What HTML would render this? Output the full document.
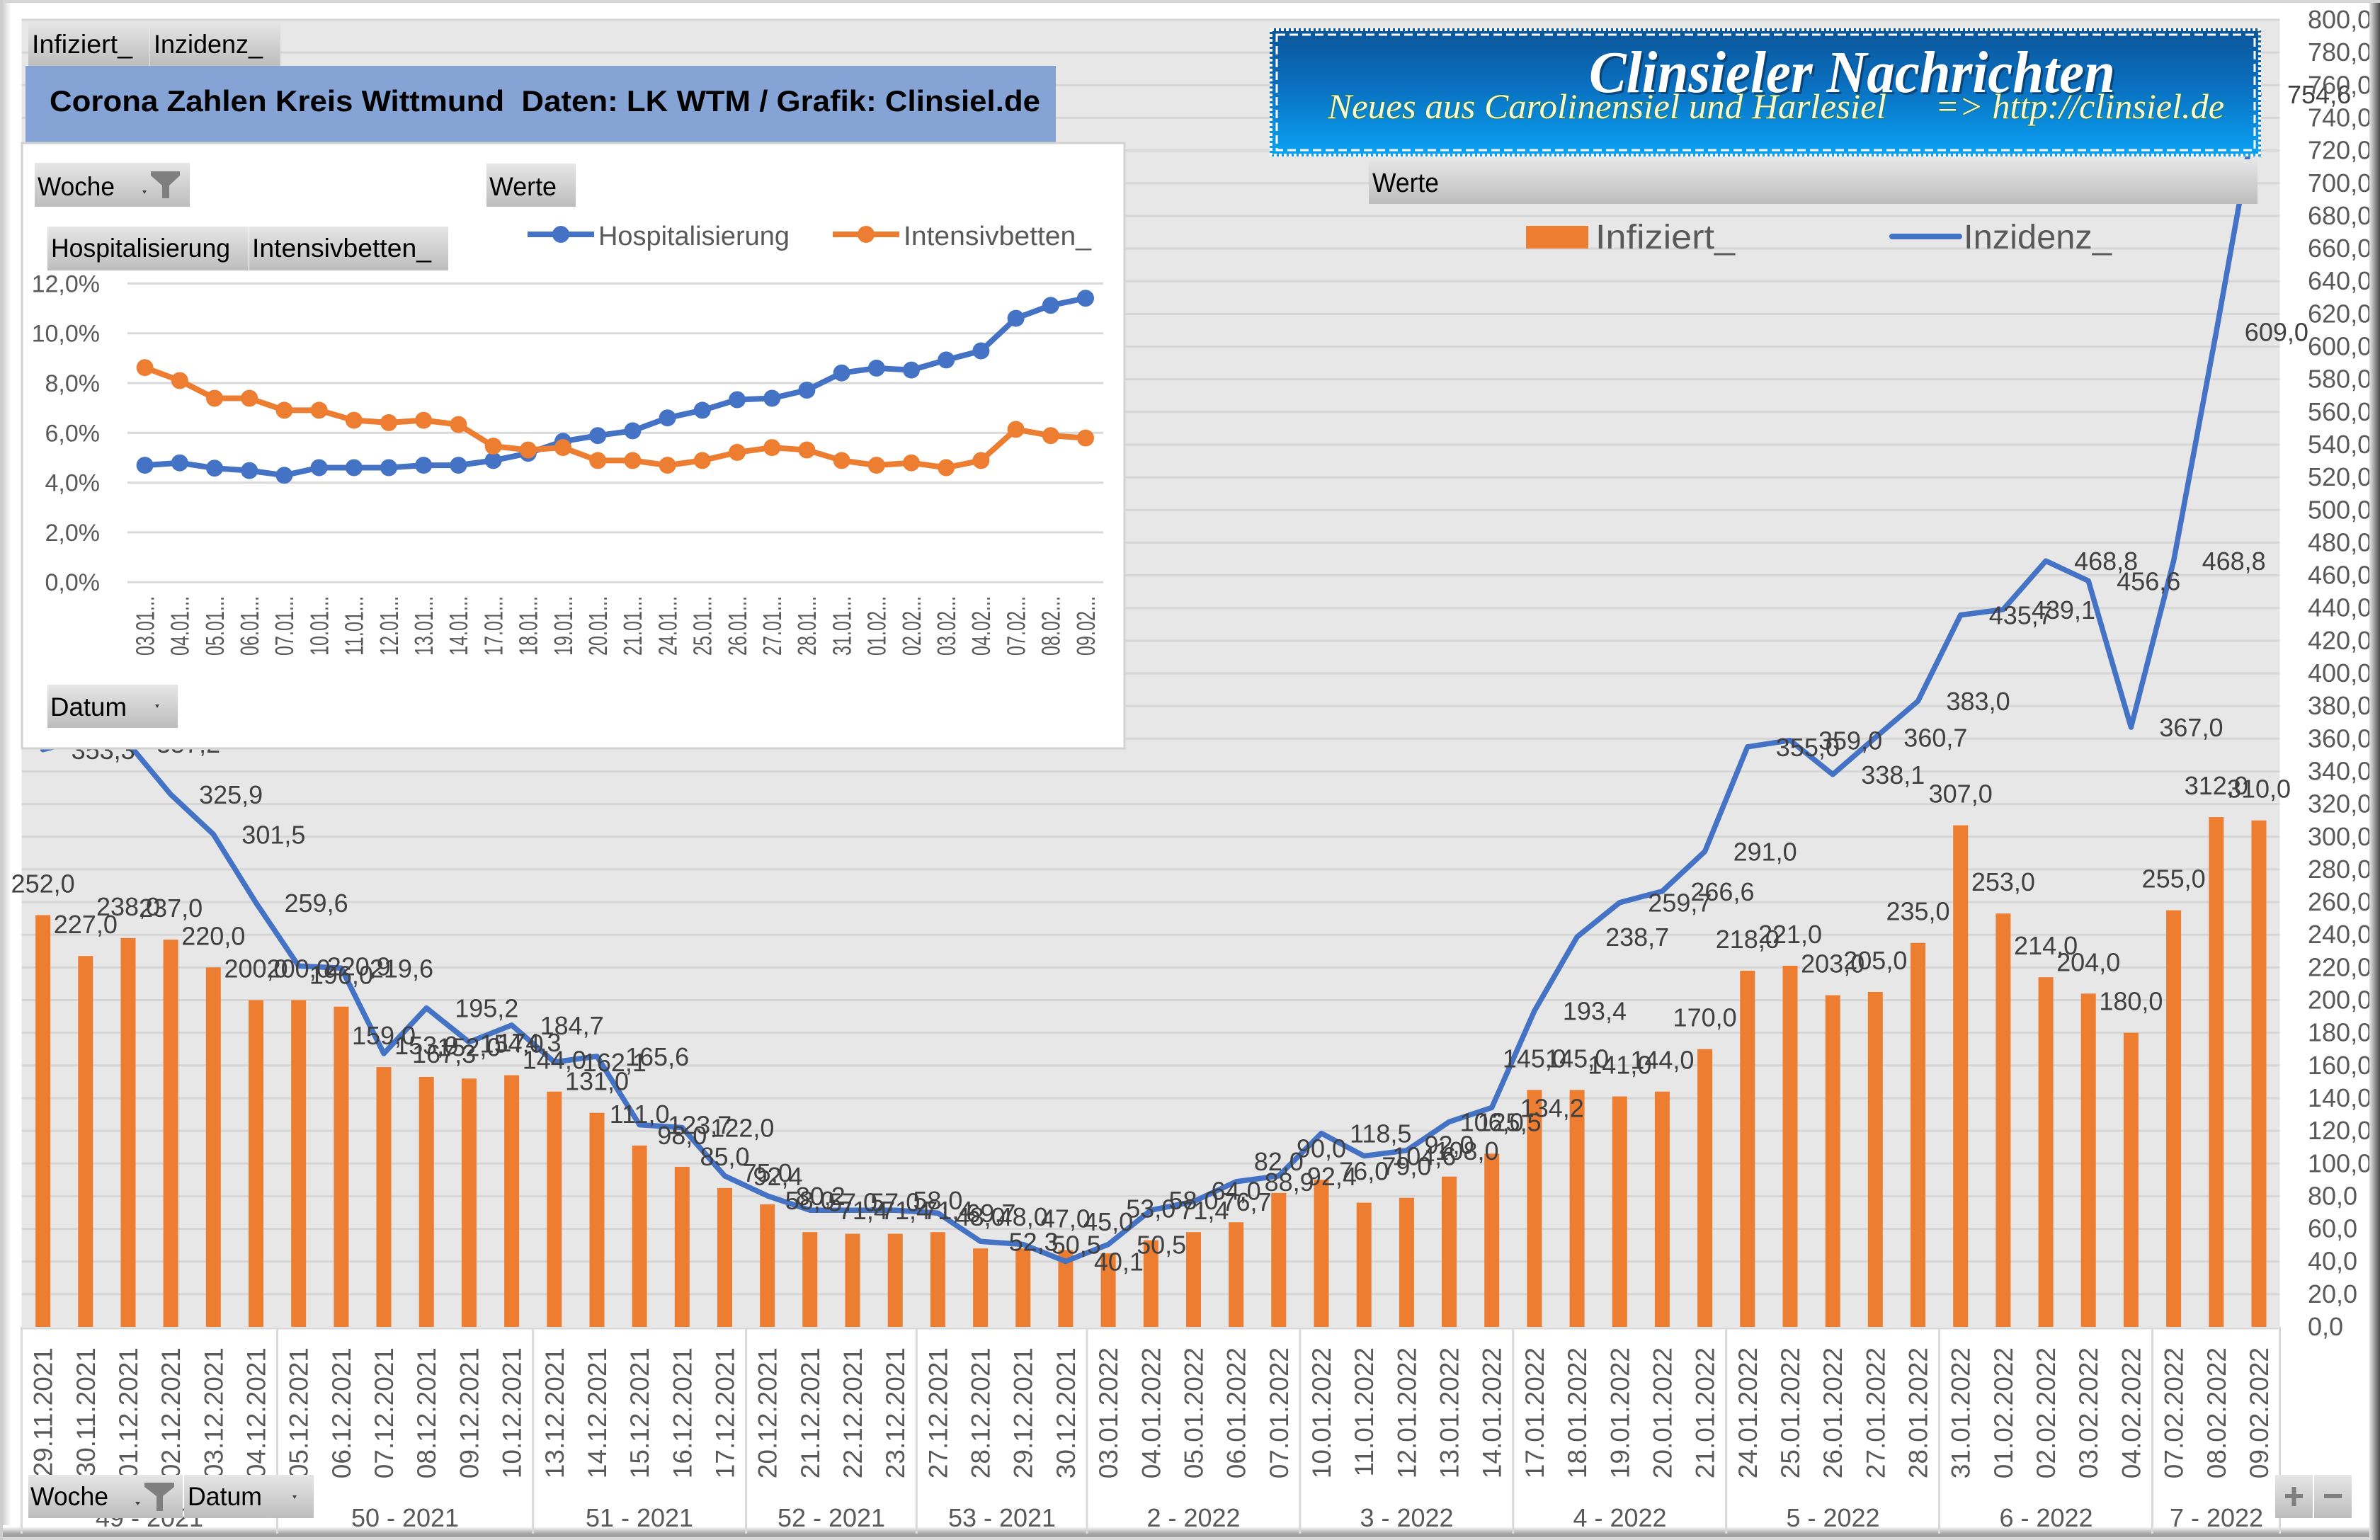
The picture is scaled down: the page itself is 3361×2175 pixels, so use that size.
<!DOCTYPE html>
<html><head><meta charset="utf-8"><title>Corona Zahlen Kreis Wittmund</title>
<style>html,body{margin:0;padding:0;background:#fff;overflow:hidden}svg{display:block}</style></head>
<body>
<svg width="3361" height="2175" viewBox="0 0 3361 2175" xmlns="http://www.w3.org/2000/svg" font-family="'Liberation Sans', sans-serif">
<defs>
<linearGradient id="btn" x1="0" y1="0" x2="0" y2="1"><stop offset="0" stop-color="#e6e6e6"/><stop offset="1" stop-color="#bdbdbd"/></linearGradient>
<linearGradient id="logo" x1="0" y1="0" x2="0" y2="1"><stop offset="0" stop-color="#0b5699"/><stop offset="0.45" stop-color="#0a6fbf"/><stop offset="1" stop-color="#0aa3f5"/></linearGradient>
<linearGradient id="rsh" x1="0" y1="0" x2="1" y2="0"><stop offset="0" stop-color="#e6e6e6"/><stop offset="0.5" stop-color="#9a9a9a"/><stop offset="1" stop-color="#4a4a4a"/></linearGradient>
<linearGradient id="lsh" x1="0" y1="0" x2="1" y2="0"><stop offset="0" stop-color="#d0d0d0"/><stop offset="1" stop-color="#fbfbfb"/></linearGradient>
<linearGradient id="bsh" x1="0" y1="0" x2="0" y2="1"><stop offset="0" stop-color="#ffffff"/><stop offset="1" stop-color="#a6a6a6"/></linearGradient>
<marker id="mb" markerUnits="userSpaceOnUse" markerWidth="26" markerHeight="26" refX="13" refY="13" viewBox="0 0 26 26"><circle cx="13" cy="13" r="12" fill="#4472c4"/></marker>
<marker id="mo" markerUnits="userSpaceOnUse" markerWidth="26" markerHeight="26" refX="13" refY="13" viewBox="0 0 26 26"><circle cx="13" cy="13" r="12" fill="#ed7d31"/></marker>
</defs>

<rect x="0" y="0" width="3361" height="2175" fill="#ffffff"/>

<!-- frame (below content) -->
<rect x="0" y="2156" width="3361" height="10" fill="url(#bsh)"/>
<rect x="0" y="2166" width="3361" height="5" fill="#a3a3a3"/>
<rect x="0" y="2171" width="3361" height="4" fill="#d8d8d8"/>

<!-- plot area -->
<rect x="30.5" y="27" width="3189" height="1847" fill="#e7e7e7"/>
<path stroke="#d6d6d6" stroke-width="3" fill="none" d="M30.5,28H3219.5M30.5,74.15H3219.5M30.5,120.3H3219.5M30.5,166.45H3219.5M30.5,212.6H3219.5M30.5,258.75H3219.5M30.5,304.9H3219.5M30.5,351.05H3219.5M30.5,397.2H3219.5M30.5,443.35H3219.5M30.5,489.5H3219.5M30.5,535.65H3219.5M30.5,581.8H3219.5M30.5,627.95H3219.5M30.5,674.1H3219.5M30.5,720.25H3219.5M30.5,766.4H3219.5M30.5,812.55H3219.5M30.5,858.7H3219.5M30.5,904.85H3219.5M30.5,951H3219.5M30.5,997.15H3219.5M30.5,1043.3H3219.5M30.5,1089.45H3219.5M30.5,1135.6H3219.5M30.5,1181.75H3219.5M30.5,1227.9H3219.5M30.5,1274.05H3219.5M30.5,1320.2H3219.5M30.5,1366.35H3219.5M30.5,1412.5H3219.5M30.5,1458.65H3219.5M30.5,1504.8H3219.5M30.5,1550.95H3219.5M30.5,1597.1H3219.5M30.5,1643.25H3219.5M30.5,1689.4H3219.5M30.5,1735.55H3219.5M30.5,1781.7H3219.5M30.5,1827.85H3219.5"/>

<!-- top tabs and title -->
<rect x="40" y="31" width="171" height="62" fill="url(#btn)"/>
<rect x="212" y="31" width="184" height="62" fill="url(#btn)"/>
<text x="45" y="75" font-size="37" fill="#000" textLength="142" lengthAdjust="spacingAndGlyphs">Infiziert_</text>
<text x="217" y="75" font-size="37" fill="#000" textLength="154" lengthAdjust="spacingAndGlyphs">Inzidenz_</text>
<rect x="36" y="93" width="1455" height="108" fill="#86a3d6"/>
<text x="70" y="157" font-size="42" font-weight="bold" fill="#000" textLength="1399" lengthAdjust="spacingAndGlyphs">Corona Zahlen Kreis Wittmund&#160; Daten: LK WTM / Grafik: Clinsiel.de</text>

<!-- bars -->
<g fill="#ed7d31">
<rect x="50.1" y="1292.5" width="21" height="581.5"/><rect x="110.3" y="1350.2" width="21" height="523.8"/><rect x="170.5" y="1324.8" width="21" height="549.2"/><rect x="230.6" y="1327.1" width="21" height="546.9"/><rect x="290.8" y="1366.3" width="21" height="507.7"/><rect x="351" y="1412.5" width="21" height="461.5"/><rect x="411.2" y="1412.5" width="21" height="461.5"/><rect x="471.4" y="1421.7" width="21" height="452.3"/><rect x="531.5" y="1507.1" width="21" height="366.9"/><rect x="591.7" y="1521" width="21" height="353"/><rect x="651.9" y="1523.3" width="21" height="350.7"/><rect x="712.1" y="1518.6" width="21" height="355.4"/><rect x="772.3" y="1541.7" width="21" height="332.3"/><rect x="832.5" y="1571.7" width="21" height="302.3"/><rect x="892.6" y="1617.9" width="21" height="256.1"/><rect x="952.8" y="1647.9" width="21" height="226.1"/><rect x="1013" y="1677.9" width="21" height="196.1"/><rect x="1073.2" y="1700.9" width="21" height="173.1"/><rect x="1133.3" y="1740.2" width="21" height="133.8"/><rect x="1193.5" y="1742.5" width="21" height="131.5"/><rect x="1253.7" y="1742.5" width="21" height="131.5"/><rect x="1313.9" y="1740.2" width="21" height="133.8"/><rect x="1374.1" y="1763.2" width="21" height="110.8"/><rect x="1434.2" y="1763.2" width="21" height="110.8"/><rect x="1494.4" y="1765.5" width="21" height="108.5"/><rect x="1554.6" y="1770.2" width="21" height="103.8"/><rect x="1614.8" y="1751.7" width="21" height="122.3"/><rect x="1675" y="1740.2" width="21" height="133.8"/><rect x="1735.1" y="1726.3" width="21" height="147.7"/><rect x="1795.3" y="1684.8" width="21" height="189.2"/><rect x="1855.5" y="1666.3" width="21" height="207.7"/><rect x="1915.7" y="1698.6" width="21" height="175.4"/><rect x="1975.9" y="1691.7" width="21" height="182.3"/><rect x="2036" y="1661.7" width="21" height="212.3"/><rect x="2096.2" y="1629.4" width="21" height="244.6"/><rect x="2156.4" y="1539.4" width="21" height="334.6"/><rect x="2216.6" y="1539.4" width="21" height="334.6"/><rect x="2276.8" y="1548.6" width="21" height="325.4"/><rect x="2336.9" y="1541.7" width="21" height="332.3"/><rect x="2397.1" y="1481.7" width="21" height="392.3"/><rect x="2457.3" y="1371" width="21" height="503"/><rect x="2517.5" y="1364" width="21" height="510"/><rect x="2577.7" y="1405.6" width="21" height="468.4"/><rect x="2637.8" y="1401" width="21" height="473"/><rect x="2698" y="1331.7" width="21" height="542.3"/><rect x="2758.2" y="1165.6" width="21" height="708.4"/><rect x="2818.4" y="1290.2" width="21" height="583.8"/><rect x="2878.6" y="1380.2" width="21" height="493.8"/><rect x="2938.7" y="1403.3" width="21" height="470.7"/><rect x="2998.9" y="1458.6" width="21" height="415.4"/><rect x="3059.1" y="1285.6" width="21" height="588.4"/><rect x="3119.3" y="1154.1" width="21" height="719.9"/><rect x="3179.5" y="1158.7" width="21" height="715.3"/>
</g>

<!-- incidence line -->
<polyline fill="none" stroke="#4472c4" stroke-width="7.5" stroke-linejoin="round" stroke-linecap="round" points="60.6,1058.8 120.8,1043.3 181,1049.8 241.1,1122 301.3,1178.3 361.5,1275 421.7,1364.3 481.9,1367.3 542,1488 602.2,1423.6 662.4,1471.8 722.6,1447.8 782.8,1500 843,1491.9 903.1,1588.6 963.3,1592.5 1023.5,1660.8 1083.7,1688.9 1143.8,1709.2 1204,1709.2 1264.2,1709.2 1324.4,1713.2 1384.6,1753.3 1444.7,1757.5 1504.9,1781.5 1565.1,1757.5 1625.3,1709.2 1685.5,1697 1745.6,1668.9 1805.8,1660.8 1866,1600.6 1926.2,1632.6 1986.4,1624.8 2046.5,1584.4 2106.7,1564.3 2166.9,1427.7 2227.1,1323.2 2287.3,1274.7 2347.4,1258.8 2407.6,1202.5 2467.8,1054.8 2528,1045.6 2588.2,1093.8 2648.3,1041.7 2708.5,990.2 2768.7,868.6 2828.9,860.8 2889.1,792.2 2949.2,820.4 3009.4,1027.1 3069.6,792.2 3129.8,468.7 3190,132.8"/>

<!-- Werte bar, logo -->
<rect x="1933" y="225" width="1255" height="63" fill="url(#btn)"/>
<text x="1938" y="271" font-size="38" fill="#000" textLength="94" lengthAdjust="spacingAndGlyphs">Werte</text>
<rect x="1793" y="40" width="1400" height="181" fill="url(#logo)"/>
<rect x="1795" y="42" width="1396" height="177" fill="none" stroke="#ffffff" stroke-width="4" stroke-dasharray="4 3"/>
<rect x="1803" y="49" width="1381" height="163" fill="none" stroke="#ffffff" stroke-width="3" stroke-dasharray="12 6"/>
<text x="2247" y="133" font-family="'Liberation Serif', serif" font-style="italic" font-weight="bold" font-size="84" fill="#0a2a4a" opacity="0.6" textLength="743" lengthAdjust="spacingAndGlyphs">Clinsieler Nachrichten</text>
<text x="2244" y="130" font-family="'Liberation Serif', serif" font-style="italic" font-weight="bold" font-size="84" fill="#ffffff" textLength="743" lengthAdjust="spacingAndGlyphs">Clinsieler Nachrichten</text>
<text x="1875" y="167" font-family="'Liberation Serif', serif" font-style="italic" font-size="50" fill="#f4f8e0" stroke="#2f7d1f" stroke-width="1.5" paint-order="stroke" textLength="789" lengthAdjust="spacingAndGlyphs">Neues aus Carolinensiel und Harlesiel</text>
<text x="2733" y="167" font-family="'Liberation Serif', serif" font-style="italic" font-size="50" fill="#f4f8e0" stroke="#2f7d1f" stroke-width="1.5" paint-order="stroke" textLength="408" lengthAdjust="spacingAndGlyphs">=&gt; http://clinsiel.de</text>

<!-- main legend -->
<rect x="2155" y="319" width="88" height="32" fill="#ed7d31"/>
<text x="2253" y="351" font-size="48" fill="#595959" textLength="197" lengthAdjust="spacingAndGlyphs">Infiziert_</text>
<line x1="2672" y1="334" x2="2767" y2="334" stroke="#4472c4" stroke-width="8" stroke-linecap="round"/>
<text x="2773" y="351" font-size="48" fill="#595959" textLength="209" lengthAdjust="spacingAndGlyphs">Inzidenz_</text>

<!-- bar labels -->
<g font-size="36" fill="#404040" text-anchor="middle">
<text x="60.6" y="1260.5">252,0</text><text x="120.8" y="1318.2">227,0</text><text x="181" y="1292.8">238,0</text><text x="241.1" y="1295.1">237,0</text><text x="301.3" y="1334.3">220,0</text><text x="361.5" y="1380.5">200,0</text><text x="421.7" y="1380.5">200,0</text><text x="481.9" y="1389.7">196,0</text><text x="542" y="1475.1">159,0</text><text x="602.2" y="1489">153,0</text><text x="662.4" y="1491.3">152,0</text><text x="722.6" y="1486.6">154,0</text><text x="782.8" y="1509.7">144,0</text><text x="843" y="1539.7">131,0</text><text x="903.1" y="1585.9">111,0</text><text x="963.3" y="1615.9">98,0</text><text x="1023.5" y="1645.9">85,0</text><text x="1083.7" y="1668.9">75,0</text><text x="1143.8" y="1708.2">58,0</text><text x="1204" y="1710.5">57,0</text><text x="1264.2" y="1710.5">57,0</text><text x="1324.4" y="1708.2">58,0</text><text x="1384.6" y="1731.2">48,0</text><text x="1444.7" y="1731.2">48,0</text><text x="1504.9" y="1733.5">47,0</text><text x="1565.1" y="1738.2">45,0</text><text x="1625.3" y="1719.7">53,0</text><text x="1685.5" y="1708.2">58,0</text><text x="1745.6" y="1694.3">64,0</text><text x="1805.8" y="1652.8">82,0</text><text x="1866" y="1634.3">90,0</text><text x="1926.2" y="1666.6">76,0</text><text x="1986.4" y="1659.7">79,0</text><text x="2046.5" y="1629.7">92,0</text><text x="2106.7" y="1597.4">106,0</text><text x="2166.9" y="1507.4">145,0</text><text x="2227.1" y="1507.4">145,0</text><text x="2287.3" y="1516.6">141,0</text><text x="2347.4" y="1509.7">144,0</text><text x="2407.6" y="1449.7">170,0</text><text x="2467.8" y="1339">218,0</text><text x="2528" y="1332">221,0</text><text x="2588.2" y="1373.6">203,0</text><text x="2648.3" y="1369">205,0</text><text x="2708.5" y="1299.7">235,0</text><text x="2768.7" y="1133.6">307,0</text><text x="2828.9" y="1258.2">253,0</text><text x="2889.1" y="1348.2">214,0</text><text x="2949.2" y="1371.3">204,0</text><text x="3009.4" y="1426.6">180,0</text><text x="3069.6" y="1253.6">255,0</text><text x="3129.8" y="1122.1">312,0</text><text x="3190" y="1126.7">310,0</text>
</g>

<!-- line labels -->
<g font-size="36" fill="#404040">
<text x="100.6" y="1071.8">353,3</text><text x="221" y="1062.8">357,2</text><text x="281.1" y="1135">325,9</text><text x="341.3" y="1191.3">301,5</text><text x="401.5" y="1288">259,6</text><text x="461.7" y="1377.3">220,9</text><text x="521.9" y="1380.3">219,6</text><text x="582" y="1501">167,3</text><text x="642.2" y="1436.6">195,2</text><text x="702.4" y="1484.8">174,3</text><text x="762.6" y="1460.8">184,7</text><text x="822.8" y="1513">162,1</text><text x="883" y="1504.9">165,6</text><text x="943.1" y="1601.6">123,7</text><text x="1003.3" y="1605.5">122,0</text><text x="1063.5" y="1673.8">92,4</text><text x="1123.7" y="1701.9">80,2</text><text x="1183.8" y="1722.2">71,4</text><text x="1244" y="1722.2">71,4</text><text x="1304.2" y="1722.2">71,4</text><text x="1364.4" y="1726.2">69,7</text><text x="1424.6" y="1766.3">52,3</text><text x="1484.7" y="1770.5">50,5</text><text x="1544.9" y="1794.5">40,1</text><text x="1605.1" y="1770.5">50,5</text><text x="1665.3" y="1722.2">71,4</text><text x="1725.5" y="1710">76,7</text><text x="1785.6" y="1681.9">88,9</text><text x="1845.8" y="1673.8">92,4</text><text x="1906" y="1613.6">118,5</text><text x="1966.2" y="1645.6">104,6</text><text x="2026.4" y="1637.8">108,0</text><text x="2086.5" y="1597.4">125,5</text><text x="2146.7" y="1577.3">134,2</text><text x="2206.9" y="1440.7">193,4</text><text x="2267.1" y="1336.2">238,7</text><text x="2327.3" y="1287.7">259,7</text><text x="2387.4" y="1271.8">266,6</text><text x="2447.6" y="1215.5">291,0</text><text x="2507.8" y="1067.8">355,0</text><text x="2568" y="1058.6">359,0</text><text x="2628.2" y="1106.8">338,1</text><text x="2688.3" y="1054.7">360,7</text><text x="2748.5" y="1003.2">383,0</text><text x="2808.7" y="881.6">435,7</text><text x="2868.9" y="873.8">439,1</text><text x="2929.1" y="805.2">468,8</text><text x="2989.2" y="833.4">456,6</text><text x="3049.4" y="1040.1">367,0</text><text x="3109.6" y="805.2">468,8</text><text x="3169.8" y="481.7">609,0</text><text x="3230" y="145.8">754,6</text>
</g>

<!-- inset panel -->
<rect x="31" y="202" width="1557" height="855" fill="#ffffff" stroke="#d2d2d2" stroke-width="3"/>
<rect x="49" y="230" width="219" height="62" fill="url(#btn)"/>
<text x="53" y="276" font-size="37" fill="#000" textLength="109" lengthAdjust="spacingAndGlyphs">Woche</text>
<polygon points="201,269 207,269 204,274" fill="#404040"/>
<polygon points="213,242 254,242 254,248 239,262 239,280 229,280 229,262 213,248" fill="#7f7f7f"/>
<rect x="687" y="231" width="126" height="61" fill="url(#btn)"/>
<text x="691" y="276" font-size="37" fill="#000" textLength="95" lengthAdjust="spacingAndGlyphs">Werte</text>
<rect x="67" y="320" width="284" height="62" fill="url(#btn)"/>
<rect x="352" y="320" width="281" height="62" fill="url(#btn)"/>
<text x="72" y="363" font-size="37" fill="#000" textLength="253" lengthAdjust="spacingAndGlyphs">Hospitalisierung</text>
<text x="356" y="363" font-size="37" fill="#000" textLength="253" lengthAdjust="spacingAndGlyphs">Intensivbetten_</text>
<line x1="745" y1="331" x2="839" y2="331" stroke="#4472c4" stroke-width="8"/>
<circle cx="792" cy="331" r="12" fill="#4472c4"/>
<text x="845" y="346" font-size="38" fill="#595959" textLength="270" lengthAdjust="spacingAndGlyphs">Hospitalisierung</text>
<line x1="1176" y1="331" x2="1270" y2="331" stroke="#ed7d31" stroke-width="8"/>
<circle cx="1223" cy="331" r="12" fill="#ed7d31"/>
<text x="1276" y="346" font-size="38" fill="#595959" textLength="265" lengthAdjust="spacingAndGlyphs">Intensivbetten_</text>
<path stroke="#d9d9d9" stroke-width="3" fill="none" d="M180,400.4H1558M180,470.7H1558M180,541H1558M180,611.3H1558M180,681.6H1558M180,751.9H1558M180,822.2H1558"/>
<g font-size="34" fill="#595959" text-anchor="end">
<text x="141" y="412.4">12,0%</text><text x="141" y="482.7">10,0%</text><text x="141" y="553">8,0%</text><text x="141" y="623.3">6,0%</text><text x="141" y="693.6">4,0%</text><text x="141" y="763.9">2,0%</text><text x="141" y="834.2">0,0%</text>
</g>
<polyline fill="none" stroke="#4472c4" stroke-width="8" stroke-linejoin="round" marker-start="url(#mb)" marker-mid="url(#mb)" marker-end="url(#mb)" points="204.6,657.1 253.8,653.7 303,661.2 352.2,664.6 401.4,671.3 450.6,660.5 499.8,660.5 549,660.5 598.2,657.1 647.4,657.1 696.6,650.4 745.8,640.2 795,623.3 844.2,615.2 893.4,608.4 942.6,590.2 991.8,579.4 1041,564.5 1090.2,562.5 1139.4,551 1188.6,526.7 1237.8,519.9 1287,522.6 1336.2,508.4 1385.4,495.5 1434.6,449.6 1483.8,431.3 1533,421.2"/>
<polyline fill="none" stroke="#ed7d31" stroke-width="8" stroke-linejoin="round" marker-start="url(#mo)" marker-mid="url(#mo)" marker-end="url(#mo)" points="204.6,519.2 253.8,537.5 303,562.5 352.2,562.5 401.4,579.4 450.6,579.4 499.8,593.6 549,596.9 598.2,593.6 647.4,599.6 696.6,630.1 745.8,635.5 795,632.1 844.2,650.4 893.4,650.4 942.6,657.1 991.8,650.4 1041,638.9 1090.2,632.1 1139.4,635.5 1188.6,650.4 1237.8,657.1 1287,653.7 1336.2,660.5 1385.4,650.4 1434.6,606.4 1483.8,615.2 1533,618.6"/>
<g font-size="28" fill="#595959" text-anchor="end">
<text transform="translate(204.6,842) rotate(-90) scale(1,1.3)" dy="0.35em" textLength="84" lengthAdjust="spacingAndGlyphs">03.01...</text>
<text transform="translate(253.8,842) rotate(-90) scale(1,1.3)" dy="0.35em" textLength="84" lengthAdjust="spacingAndGlyphs">04.01...</text>
<text transform="translate(303,842) rotate(-90) scale(1,1.3)" dy="0.35em" textLength="84" lengthAdjust="spacingAndGlyphs">05.01...</text>
<text transform="translate(352.2,842) rotate(-90) scale(1,1.3)" dy="0.35em" textLength="84" lengthAdjust="spacingAndGlyphs">06.01...</text>
<text transform="translate(401.4,842) rotate(-90) scale(1,1.3)" dy="0.35em" textLength="84" lengthAdjust="spacingAndGlyphs">07.01...</text>
<text transform="translate(450.6,842) rotate(-90) scale(1,1.3)" dy="0.35em" textLength="84" lengthAdjust="spacingAndGlyphs">10.01...</text>
<text transform="translate(499.8,842) rotate(-90) scale(1,1.3)" dy="0.35em" textLength="84" lengthAdjust="spacingAndGlyphs">11.01...</text>
<text transform="translate(549,842) rotate(-90) scale(1,1.3)" dy="0.35em" textLength="84" lengthAdjust="spacingAndGlyphs">12.01...</text>
<text transform="translate(598.2,842) rotate(-90) scale(1,1.3)" dy="0.35em" textLength="84" lengthAdjust="spacingAndGlyphs">13.01...</text>
<text transform="translate(647.4,842) rotate(-90) scale(1,1.3)" dy="0.35em" textLength="84" lengthAdjust="spacingAndGlyphs">14.01...</text>
<text transform="translate(696.6,842) rotate(-90) scale(1,1.3)" dy="0.35em" textLength="84" lengthAdjust="spacingAndGlyphs">17.01...</text>
<text transform="translate(745.8,842) rotate(-90) scale(1,1.3)" dy="0.35em" textLength="84" lengthAdjust="spacingAndGlyphs">18.01...</text>
<text transform="translate(795,842) rotate(-90) scale(1,1.3)" dy="0.35em" textLength="84" lengthAdjust="spacingAndGlyphs">19.01...</text>
<text transform="translate(844.2,842) rotate(-90) scale(1,1.3)" dy="0.35em" textLength="84" lengthAdjust="spacingAndGlyphs">20.01...</text>
<text transform="translate(893.4,842) rotate(-90) scale(1,1.3)" dy="0.35em" textLength="84" lengthAdjust="spacingAndGlyphs">21.01...</text>
<text transform="translate(942.6,842) rotate(-90) scale(1,1.3)" dy="0.35em" textLength="84" lengthAdjust="spacingAndGlyphs">24.01...</text>
<text transform="translate(991.8,842) rotate(-90) scale(1,1.3)" dy="0.35em" textLength="84" lengthAdjust="spacingAndGlyphs">25.01...</text>
<text transform="translate(1041,842) rotate(-90) scale(1,1.3)" dy="0.35em" textLength="84" lengthAdjust="spacingAndGlyphs">26.01...</text>
<text transform="translate(1090.2,842) rotate(-90) scale(1,1.3)" dy="0.35em" textLength="84" lengthAdjust="spacingAndGlyphs">27.01...</text>
<text transform="translate(1139.4,842) rotate(-90) scale(1,1.3)" dy="0.35em" textLength="84" lengthAdjust="spacingAndGlyphs">28.01...</text>
<text transform="translate(1188.6,842) rotate(-90) scale(1,1.3)" dy="0.35em" textLength="84" lengthAdjust="spacingAndGlyphs">31.01...</text>
<text transform="translate(1237.8,842) rotate(-90) scale(1,1.3)" dy="0.35em" textLength="84" lengthAdjust="spacingAndGlyphs">01.02...</text>
<text transform="translate(1287,842) rotate(-90) scale(1,1.3)" dy="0.35em" textLength="84" lengthAdjust="spacingAndGlyphs">02.02...</text>
<text transform="translate(1336.2,842) rotate(-90) scale(1,1.3)" dy="0.35em" textLength="84" lengthAdjust="spacingAndGlyphs">03.02...</text>
<text transform="translate(1385.4,842) rotate(-90) scale(1,1.3)" dy="0.35em" textLength="84" lengthAdjust="spacingAndGlyphs">04.02...</text>
<text transform="translate(1434.6,842) rotate(-90) scale(1,1.3)" dy="0.35em" textLength="84" lengthAdjust="spacingAndGlyphs">07.02...</text>
<text transform="translate(1483.8,842) rotate(-90) scale(1,1.3)" dy="0.35em" textLength="84" lengthAdjust="spacingAndGlyphs">08.02...</text>
<text transform="translate(1533,842) rotate(-90) scale(1,1.3)" dy="0.35em" textLength="84" lengthAdjust="spacingAndGlyphs">09.02...</text>
</g>
<rect x="67" y="967" width="184" height="61" fill="url(#btn)"/>
<text x="71" y="1011" font-size="37" fill="#000" textLength="108" lengthAdjust="spacingAndGlyphs">Datum</text>
<polygon points="219,995 225,995 222,1000" fill="#404040"/>

<!-- right axis labels -->
<g font-size="36" fill="#595959">
<text x="3259" y="40">800,0</text><text x="3259" y="86.15">780,0</text><text x="3259" y="132.3">760,0</text><text x="3259" y="178.45">740,0</text><text x="3259" y="224.6">720,0</text><text x="3259" y="270.75">700,0</text><text x="3259" y="316.9">680,0</text><text x="3259" y="363.05">660,0</text><text x="3259" y="409.2">640,0</text><text x="3259" y="455.35">620,0</text><text x="3259" y="501.5">600,0</text><text x="3259" y="547.65">580,0</text><text x="3259" y="593.8">560,0</text><text x="3259" y="639.95">540,0</text><text x="3259" y="686.1">520,0</text><text x="3259" y="732.25">500,0</text><text x="3259" y="778.4">480,0</text><text x="3259" y="824.55">460,0</text><text x="3259" y="870.7">440,0</text><text x="3259" y="916.85">420,0</text><text x="3259" y="963">400,0</text><text x="3259" y="1009.15">380,0</text><text x="3259" y="1055.3">360,0</text><text x="3259" y="1101.45">340,0</text><text x="3259" y="1147.6">320,0</text><text x="3259" y="1193.75">300,0</text><text x="3259" y="1239.9">280,0</text><text x="3259" y="1286.05">260,0</text><text x="3259" y="1332.2">240,0</text><text x="3259" y="1378.35">220,0</text><text x="3259" y="1424.5">200,0</text><text x="3259" y="1470.65">180,0</text><text x="3259" y="1516.8">160,0</text><text x="3259" y="1562.95">140,0</text><text x="3259" y="1609.1">120,0</text><text x="3259" y="1655.25">100,0</text><text x="3259" y="1701.4">80,0</text><text x="3259" y="1747.55">60,0</text><text x="3259" y="1793.7">40,0</text><text x="3259" y="1839.85">20,0</text><text x="3259" y="1886">0,0</text>
</g>

<!-- x axis area -->
<path stroke="#d9d9d9" stroke-width="3" fill="none" d="M30.5,1876H3219.5M30.5,1874V2166M391.6,1876V2166M752.7,1876V2166M1053.6,1876V2166M1294.3,1876V2166M1535,1876V2166M1835.9,1876V2166M2136.8,1876V2166M2437.7,1876V2166M2738.6,1876V2166M3039.5,1876V2166M3219.5,1874V2166"/>
<g font-size="37" fill="#595959" text-anchor="end">
<text transform="translate(60.6,1903) rotate(-90)" dy="0.35em">29.11.2021</text>
<text transform="translate(120.8,1903) rotate(-90)" dy="0.35em">30.11.2021</text>
<text transform="translate(181,1903) rotate(-90)" dy="0.35em">01.12.2021</text>
<text transform="translate(241.1,1903) rotate(-90)" dy="0.35em">02.12.2021</text>
<text transform="translate(301.3,1903) rotate(-90)" dy="0.35em">03.12.2021</text>
<text transform="translate(361.5,1903) rotate(-90)" dy="0.35em">04.12.2021</text>
<text transform="translate(421.7,1903) rotate(-90)" dy="0.35em">05.12.2021</text>
<text transform="translate(481.9,1903) rotate(-90)" dy="0.35em">06.12.2021</text>
<text transform="translate(542,1903) rotate(-90)" dy="0.35em">07.12.2021</text>
<text transform="translate(602.2,1903) rotate(-90)" dy="0.35em">08.12.2021</text>
<text transform="translate(662.4,1903) rotate(-90)" dy="0.35em">09.12.2021</text>
<text transform="translate(722.6,1903) rotate(-90)" dy="0.35em">10.12.2021</text>
<text transform="translate(782.8,1903) rotate(-90)" dy="0.35em">13.12.2021</text>
<text transform="translate(843,1903) rotate(-90)" dy="0.35em">14.12.2021</text>
<text transform="translate(903.1,1903) rotate(-90)" dy="0.35em">15.12.2021</text>
<text transform="translate(963.3,1903) rotate(-90)" dy="0.35em">16.12.2021</text>
<text transform="translate(1023.5,1903) rotate(-90)" dy="0.35em">17.12.2021</text>
<text transform="translate(1083.7,1903) rotate(-90)" dy="0.35em">20.12.2021</text>
<text transform="translate(1143.8,1903) rotate(-90)" dy="0.35em">21.12.2021</text>
<text transform="translate(1204,1903) rotate(-90)" dy="0.35em">22.12.2021</text>
<text transform="translate(1264.2,1903) rotate(-90)" dy="0.35em">23.12.2021</text>
<text transform="translate(1324.4,1903) rotate(-90)" dy="0.35em">27.12.2021</text>
<text transform="translate(1384.6,1903) rotate(-90)" dy="0.35em">28.12.2021</text>
<text transform="translate(1444.7,1903) rotate(-90)" dy="0.35em">29.12.2021</text>
<text transform="translate(1504.9,1903) rotate(-90)" dy="0.35em">30.12.2021</text>
<text transform="translate(1565.1,1903) rotate(-90)" dy="0.35em">03.01.2022</text>
<text transform="translate(1625.3,1903) rotate(-90)" dy="0.35em">04.01.2022</text>
<text transform="translate(1685.5,1903) rotate(-90)" dy="0.35em">05.01.2022</text>
<text transform="translate(1745.6,1903) rotate(-90)" dy="0.35em">06.01.2022</text>
<text transform="translate(1805.8,1903) rotate(-90)" dy="0.35em">07.01.2022</text>
<text transform="translate(1866,1903) rotate(-90)" dy="0.35em">10.01.2022</text>
<text transform="translate(1926.2,1903) rotate(-90)" dy="0.35em">11.01.2022</text>
<text transform="translate(1986.4,1903) rotate(-90)" dy="0.35em">12.01.2022</text>
<text transform="translate(2046.5,1903) rotate(-90)" dy="0.35em">13.01.2022</text>
<text transform="translate(2106.7,1903) rotate(-90)" dy="0.35em">14.01.2022</text>
<text transform="translate(2166.9,1903) rotate(-90)" dy="0.35em">17.01.2022</text>
<text transform="translate(2227.1,1903) rotate(-90)" dy="0.35em">18.01.2022</text>
<text transform="translate(2287.3,1903) rotate(-90)" dy="0.35em">19.01.2022</text>
<text transform="translate(2347.4,1903) rotate(-90)" dy="0.35em">20.01.2022</text>
<text transform="translate(2407.6,1903) rotate(-90)" dy="0.35em">21.01.2022</text>
<text transform="translate(2467.8,1903) rotate(-90)" dy="0.35em">24.01.2022</text>
<text transform="translate(2528,1903) rotate(-90)" dy="0.35em">25.01.2022</text>
<text transform="translate(2588.2,1903) rotate(-90)" dy="0.35em">26.01.2022</text>
<text transform="translate(2648.3,1903) rotate(-90)" dy="0.35em">27.01.2022</text>
<text transform="translate(2708.5,1903) rotate(-90)" dy="0.35em">28.01.2022</text>
<text transform="translate(2768.7,1903) rotate(-90)" dy="0.35em">31.01.2022</text>
<text transform="translate(2828.9,1903) rotate(-90)" dy="0.35em">01.02.2022</text>
<text transform="translate(2889.1,1903) rotate(-90)" dy="0.35em">02.02.2022</text>
<text transform="translate(2949.2,1903) rotate(-90)" dy="0.35em">03.02.2022</text>
<text transform="translate(3009.4,1903) rotate(-90)" dy="0.35em">04.02.2022</text>
<text transform="translate(3069.6,1903) rotate(-90)" dy="0.35em">07.02.2022</text>
<text transform="translate(3129.8,1903) rotate(-90)" dy="0.35em">08.02.2022</text>
<text transform="translate(3190,1903) rotate(-90)" dy="0.35em">09.02.2022</text>
</g>
<g font-size="36" fill="#595959" text-anchor="middle">
<text x="211" y="2156">49 - 2021</text><text x="572" y="2156">50 - 2021</text><text x="903" y="2156">51 - 2021</text><text x="1174" y="2156">52 - 2021</text><text x="1415" y="2156">53 - 2021</text><text x="1685.5" y="2156">2 - 2022</text><text x="1986.5" y="2156">3 - 2022</text><text x="2287.5" y="2156">4 - 2022</text><text x="2588.5" y="2156">5 - 2022</text><text x="2889.5" y="2156">6 - 2022</text><text x="3130" y="2156">7 - 2022</text>
</g>

<!-- bottom buttons -->
<rect x="40" y="2083" width="218" height="61" fill="url(#btn)"/>
<text x="43" y="2126" font-size="37" fill="#000" textLength="110" lengthAdjust="spacingAndGlyphs">Woche</text>
<polygon points="191,2121 198,2121 194.5,2126" fill="#404040"/>
<polygon points="204,2094 246,2094 246,2100 230,2113 230,2134 221,2134 221,2113 204,2100" fill="#7f7f7f"/>
<rect x="260" y="2083" width="183" height="61" fill="url(#btn)"/>
<text x="265" y="2126" font-size="37" fill="#000" textLength="105" lengthAdjust="spacingAndGlyphs">Datum</text>
<polygon points="413,2112 419,2112 416,2117" fill="#404040"/>
<rect x="3213" y="2083" width="53" height="61" fill="url(#btn)"/>
<rect x="3268" y="2083" width="53" height="61" fill="url(#btn)"/>
<rect x="3227" y="2110" width="25" height="6" fill="#7f7f7f"/>
<rect x="3236.5" y="2100" width="6" height="27" fill="#7f7f7f"/>
<rect x="3282" y="2110" width="25" height="6" fill="#7f7f7f"/>

<!-- frame (top/left/right) -->
<rect x="0" y="0" width="3361" height="4" fill="#d6d6d6"/>
<rect x="0" y="0" width="4" height="2175" fill="#cdcdcd"/>
<rect x="4" y="4" width="11" height="2150" fill="url(#lsh)"/>
<rect x="3346" y="4" width="15" height="2171" fill="url(#rsh)"/>
</svg>
</body></html>
